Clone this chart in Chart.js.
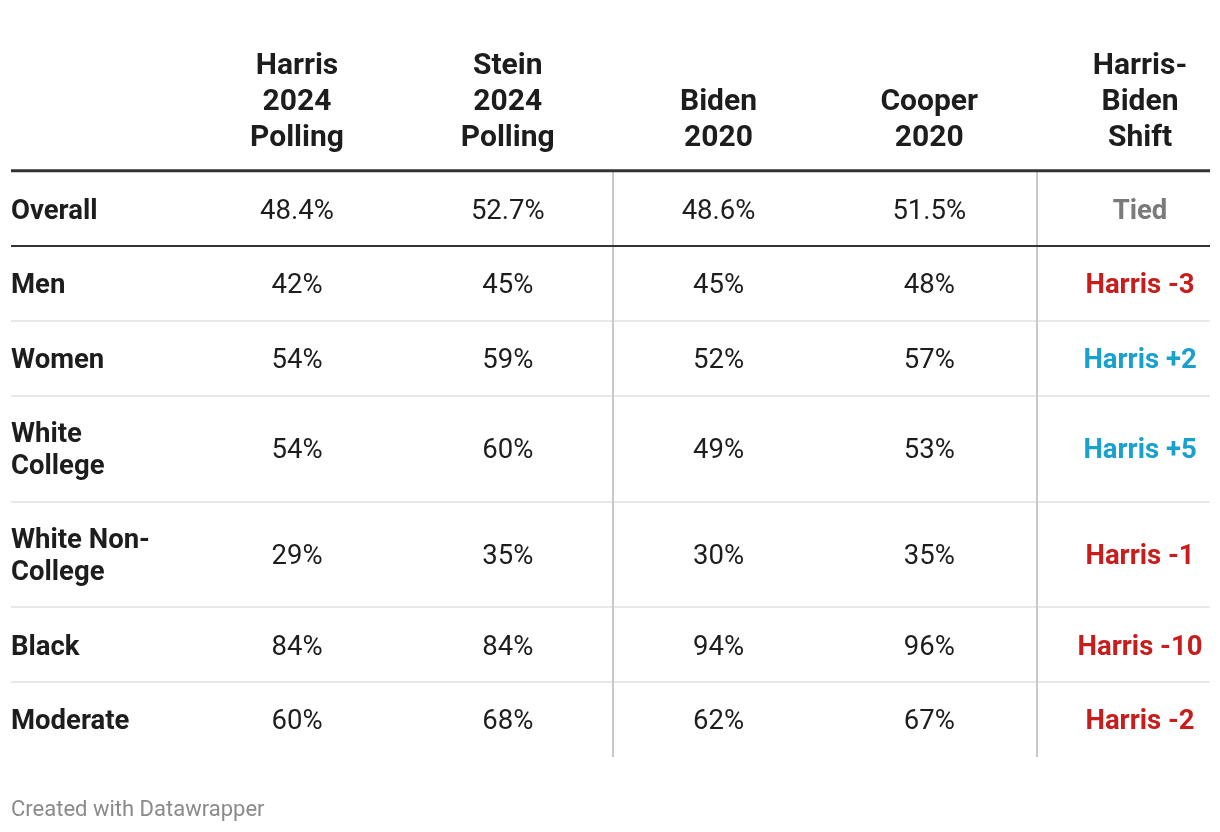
<!DOCTYPE html>
<html>
<head>
<meta charset="utf-8">
<script src="https://cdn.jsdelivr.net/npm/chart.js@4.4.1/dist/chart.umd.min.js"></script>
<style>
  html, body { margin: 0; padding: 0; background: #ffffff; }
  #wrap { width: 1220px; height: 832px; position: relative; }
</style>
</head>
<body>
<div id="wrap"><canvas id="c"></canvas></div>
<script>
// ---- data ----
const columnHeaders = [
  ['Harris', '2024', 'Polling'],
  ['Stein', '2024', 'Polling'],
  ['Biden', '2020'],
  ['Cooper', '2020'],
  ['Harris-', 'Biden', 'Shift']
];
const rowLabels = [
  ['Overall'],
  ['Men'],
  ['Women'],
  ['White', 'College'],
  ['White Non-', 'College'],
  ['Black'],
  ['Moderate']
];
const harris2024 = [48.4, 42, 54, 54, 29, 84, 60];
const stein2024  = [52.7, 45, 59, 60, 35, 84, 68];
const biden2020  = [48.6, 45, 52, 49, 30, 94, 62];
const cooper2020 = [51.5, 48, 57, 53, 35, 96, 67];
const harrisBidenShift = [0, -3, 2, 5, -1, -10, -2];
const footerText = 'Created with Datawrapper';

// ---- layout helpers (not data) ----
const FONT = 'Roboto, "Noto Sans", sans-serif';
const TEXT = '#1d1d1d';
const RED = '#c71e1d';
const BLUE = '#18a1cd';
const GREY = '#7a7a7a';
const HEADER_SIZE = 30;
const CELL_SIZE = 27.5;
const CAP = 0.355; // half cap-height ratio for Roboto
const HEADER_UNITS = 2.29;
const rowWeight = lines => 1 + 0.413 * (lines.length - 1);
const rowBounds = [HEADER_UNITS];
rowLabels.forEach(l => rowBounds.push(rowBounds[rowBounds.length - 1] + rowWeight(l)));
const rowCenters = rowLabels.map((l, i) => (rowBounds[i] + rowBounds[i + 1]) / 2);
const Y_MAX = rowBounds[rowBounds.length - 1];
const X_MIN = -0.357, X_MAX = 5.332;
const separatorsAfter = [2, 4];

const fmtPct = v => (v % 1 ? v.toFixed(1) : String(v)) + '%';
const fmtShift = v => v === 0 ? 'Tied' : 'Harris ' + (v > 0 ? '+' : '') + v;
const shiftColor = v => v === 0 ? GREY : (v > 0 ? BLUE : RED);

const valueColumns = [harris2024, stein2024, biden2020, cooper2020];
const datasets = [];
datasets.push({
  label: 'labels', kind: 'label',
  data: rowLabels.map((l, i) => ({ x: X_MIN, y: rowCenters[i] })),
  texts: rowLabels
});
valueColumns.forEach((arr, c) => {
  datasets.push({
    label: 'col' + c, kind: 'value',
    data: arr.map((v, i) => ({ x: c + 1, y: rowCenters[i] })),
    texts: arr.map(fmtPct)
  });
});
datasets.push({
  label: 'shift', kind: 'shift',
  data: harrisBidenShift.map((v, i) => ({ x: 5, y: rowCenters[i] })),
  texts: harrisBidenShift.map(fmtShift),
  colors: harrisBidenShift.map(shiftColor)
});
datasets.forEach(d => { d.pointRadius = 0; d.pointHoverRadius = 0; d.showLine = false; });

const tablePlugin = {
  id: 'tablePlugin',
  beforeDatasetsDraw(chart) {
    const ctx = chart.ctx;
    const xs = chart.scales.x, ys = chart.scales.y;
    const left = chart.chartArea.left, right = chart.chartArea.right;
    ctx.save();
    // light row separators
    ctx.strokeStyle = '#e8e8e8';
    ctx.lineWidth = 2;
    for (let i = 2; i < rowBounds.length - 1; i++) {
      const y = Math.round(ys.getPixelForValue(rowBounds[i]));
      ctx.beginPath(); ctx.moveTo(left, y); ctx.lineTo(right, y); ctx.stroke();
    }
    // vertical separators
    ctx.strokeStyle = '#c8c8c8';
    ctx.lineWidth = 2;
    separatorsAfter.forEach(c => {
      const x = Math.round(xs.getPixelForValue(c + 0.5)) + (c === 4 ? 2 : 0);
      ctx.beginPath();
      ctx.moveTo(x, ys.getPixelForValue(rowBounds[0]));
      ctx.lineTo(x, ys.getPixelForValue(Y_MAX));
      ctx.stroke();
    });
    // dark line under overall
    ctx.strokeStyle = '#333333';
    ctx.lineWidth = 2;
    let y1 = Math.round(ys.getPixelForValue(rowBounds[1]));
    ctx.beginPath(); ctx.moveTo(left, y1); ctx.lineTo(right, y1); ctx.stroke();
    // thick header line
    ctx.lineWidth = 3;
    let y0 = ys.getPixelForValue(rowBounds[0]) - 0.5;
    ctx.beginPath(); ctx.moveTo(left, y0); ctx.lineTo(right, y0); ctx.stroke();
    ctx.restore();
  },
  afterDatasetsDraw(chart) {
    const ctx = chart.ctx;
    const xs = chart.scales.x, ys = chart.scales.y;
    ctx.save();
    ctx.textBaseline = 'alphabetic';
    // headers
    ctx.font = 'bold ' + HEADER_SIZE + 'px ' + FONT;
    ctx.fillStyle = TEXT;
    ctx.textAlign = 'center';
    const headerBottom = ys.getPixelForValue(rowBounds[0]);
    const hOff = CAP * HEADER_SIZE;
    columnHeaders.forEach((lines, c) => {
      const x = xs.getPixelForValue(c + 1);
      lines.forEach((t, k) => {
        const y = headerBottom - 36 - (lines.length - 1 - k) * 36;
        ctx.fillText(t, x, y + hOff);
      });
    });
    // cells
    const cOff = CAP * CELL_SIZE;
    chart.data.datasets.forEach((ds, di) => {
      const meta = chart.getDatasetMeta(di);
      meta.data.forEach((pt, i) => {
        if (ds.kind === 'label') {
          ctx.font = 'bold ' + CELL_SIZE + 'px ' + FONT;
          ctx.fillStyle = TEXT;
          ctx.textAlign = 'left';
          const lines = ds.texts[i];
          lines.forEach((t, k) => {
            ctx.fillText(t, pt.x, pt.y + cOff + (k - (lines.length - 1) / 2) * 32);
          });
        } else if (ds.kind === 'value') {
          ctx.font = CELL_SIZE + 'px ' + FONT;
          ctx.fillStyle = TEXT;
          ctx.textAlign = 'center';
          ctx.fillText(ds.texts[i], pt.x, pt.y + cOff);
        } else {
          ctx.font = 'bold ' + CELL_SIZE + 'px ' + FONT;
          ctx.fillStyle = ds.colors[i];
          ctx.textAlign = 'center';
          ctx.fillText(ds.texts[i], pt.x, pt.y + cOff);
        }
      });
    });
    // footer
    ctx.font = '22px ' + FONT;
    ctx.fillStyle = '#8a8a8a';
    ctx.textAlign = 'left';
    ctx.fillText(footerText, chart.chartArea.left, chart.chartArea.bottom + 51 + CAP * 22);
    ctx.restore();
  }
};

new Chart(document.getElementById('c'), {
  type: 'scatter',
  data: { datasets },
  options: {
    responsive: true,
    maintainAspectRatio: false,
    animation: false,
    devicePixelRatio: 1,
    layout: { padding: { left: 11, right: 10, top: 0, bottom: 75 } },
    plugins: { legend: { display: false }, tooltip: { enabled: false } },
    events: [],
    scales: {
      x: { type: 'linear', min: X_MIN, max: X_MAX, display: false },
      y: { type: 'linear', min: 0, max: Y_MAX, reverse: true, display: false }
    }
  },
  plugins: [tablePlugin]
});
</script>
</body>
</html>
